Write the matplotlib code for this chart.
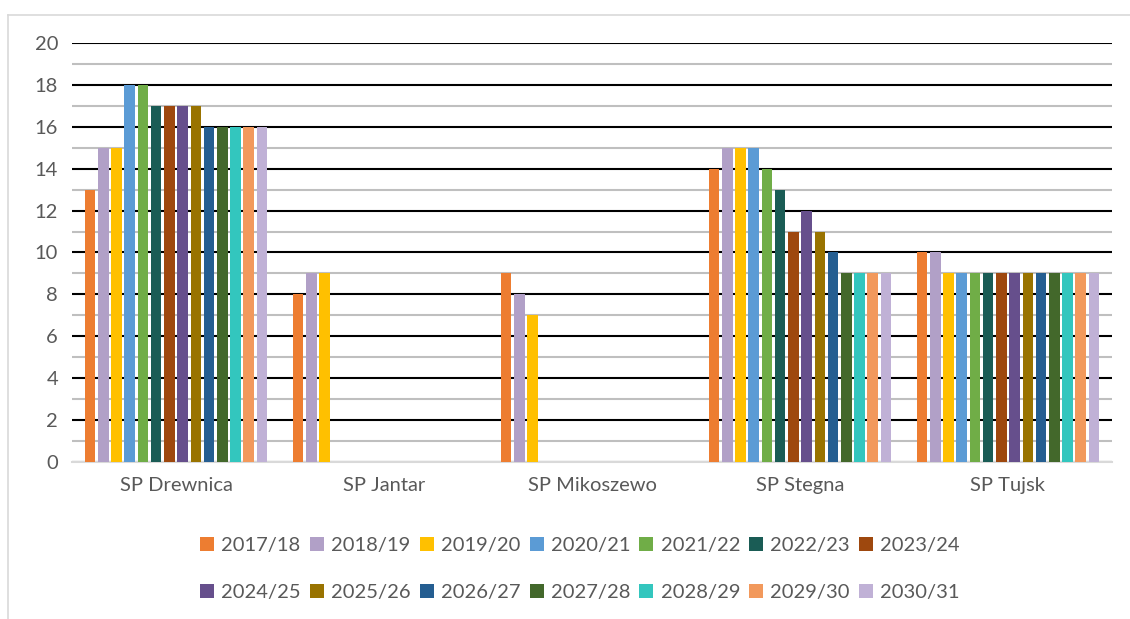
import numpy as np
import matplotlib.pyplot as plt
from matplotlib.lines import Line2D

plt.rcParams['font.family'] = ['Lato', 'DejaVu Sans']

categories = ['SP Drewnica', 'SP Jantar', 'SP Mikoszewo', 'SP Stegna', 'SP Tujsk']
seasons = ['2017/18', '2018/19', '2019/20', '2020/21', '2021/22', '2022/23', '2023/24',
           '2024/25', '2025/26', '2026/27', '2027/28', '2028/29', '2029/30', '2030/31']

# one row per school, one value per season (0 = no data)
drewnica = [13, 15, 15, 18, 18, 17, 17, 17, 17, 16, 16, 16, 16, 16]
jantar = [8, 9, 9, 0, 0, 0, 0, 0, 0, 0, 0, 0, 0, 0]
mikoszewo = [9, 8, 7, 0, 0, 0, 0, 0, 0, 0, 0, 0, 0, 0]
stegna = [14, 15, 15, 15, 14, 13, 11, 12, 11, 10, 9, 9, 9, 9]
tujsk = [10, 10, 9, 9, 9, 9, 9, 9, 9, 9, 9, 9, 9, 9]

colors = ['#ED7D31', '#B1A0C7', '#FFC000', '#5B9BD5', '#70AD47', '#1A5C55', '#9E480E',
          '#664F8C', '#997300', '#255E91', '#43682B', '#33C6BE', '#F2995C', '#C0B1D6']

values = np.array([drewnica, jantar, mikoszewo, stegna, tujsk])

W, H = 1130, 619
fig = plt.figure(figsize=(W / 100, H / 100), dpi=100)
ax = fig.add_axes([72 / W, 1 - 462 / H, 1040 / W, 419 / H])

# frame edges (top and left only, the rest is cut off)
fig.add_artist(Line2D([8 / W, 1], [1 - 15 / H, 1 - 15 / H], transform=fig.transFigure,
                      color='#D9D9D9', linewidth=1.2))
fig.add_artist(Line2D([8 / W, 8 / W], [0, 1 - 15 / H], transform=fig.transFigure,
                      color='#D9D9D9', linewidth=1.2))

x = np.arange(len(categories))
n = len(seasons)
group_w = 0.89
slot = group_w / n
for i, s in enumerate(seasons):
    pos = x - group_w / 2 + slot * (i + 0.5)
    ax.bar(pos, values[:, i], width=slot * 0.8, color=colors[i], label=s, zorder=3)

ax.set_xlim(-0.5, len(categories) - 0.5)
ax.set_ylim(0, 20)
ax.set_yticks(np.arange(0, 21, 2))
ax.set_yticks(np.arange(1, 20, 2), minor=True)
ax.grid(axis='y', which='major', color='black', linewidth=1.5, zorder=0)
ax.grid(axis='y', which='minor', color='#BFBFBF', linewidth=1.5, zorder=0)
ax.set_axisbelow(True)

ax.set_xticks(x)
ax.set_xticklabels(categories)
ax.tick_params(axis='both', which='both', length=0, labelsize=14.5, colors='#595959')
ax.tick_params(axis='x', pad=11)
ax.tick_params(axis='y', pad=10)
for side in ['top', 'right', 'left']:
    ax.spines[side].set_visible(False)
ax.spines['bottom'].set_color('#D9D9D9')
ax.spines['bottom'].set_linewidth(1.5)

# legend fills row by row: 7 entries on top, 7 below
handles, labels = ax.get_legend_handles_labels()
ncol = 7
order = [r * ncol + c for c in range(ncol) for r in range(2)]
fig.legend([handles[k] for k in order], [labels[k] for k in order],
           loc='center', bbox_to_anchor=(580 / W, 1 - 569 / H), ncol=ncol,
           frameon=False, fontsize=14.5, handlelength=0.7, handleheight=0.7,
           handletextpad=0.35, columnspacing=0.45, labelspacing=1.45,
           labelcolor='#595959')

fig.savefig('out.png', dpi=100)
